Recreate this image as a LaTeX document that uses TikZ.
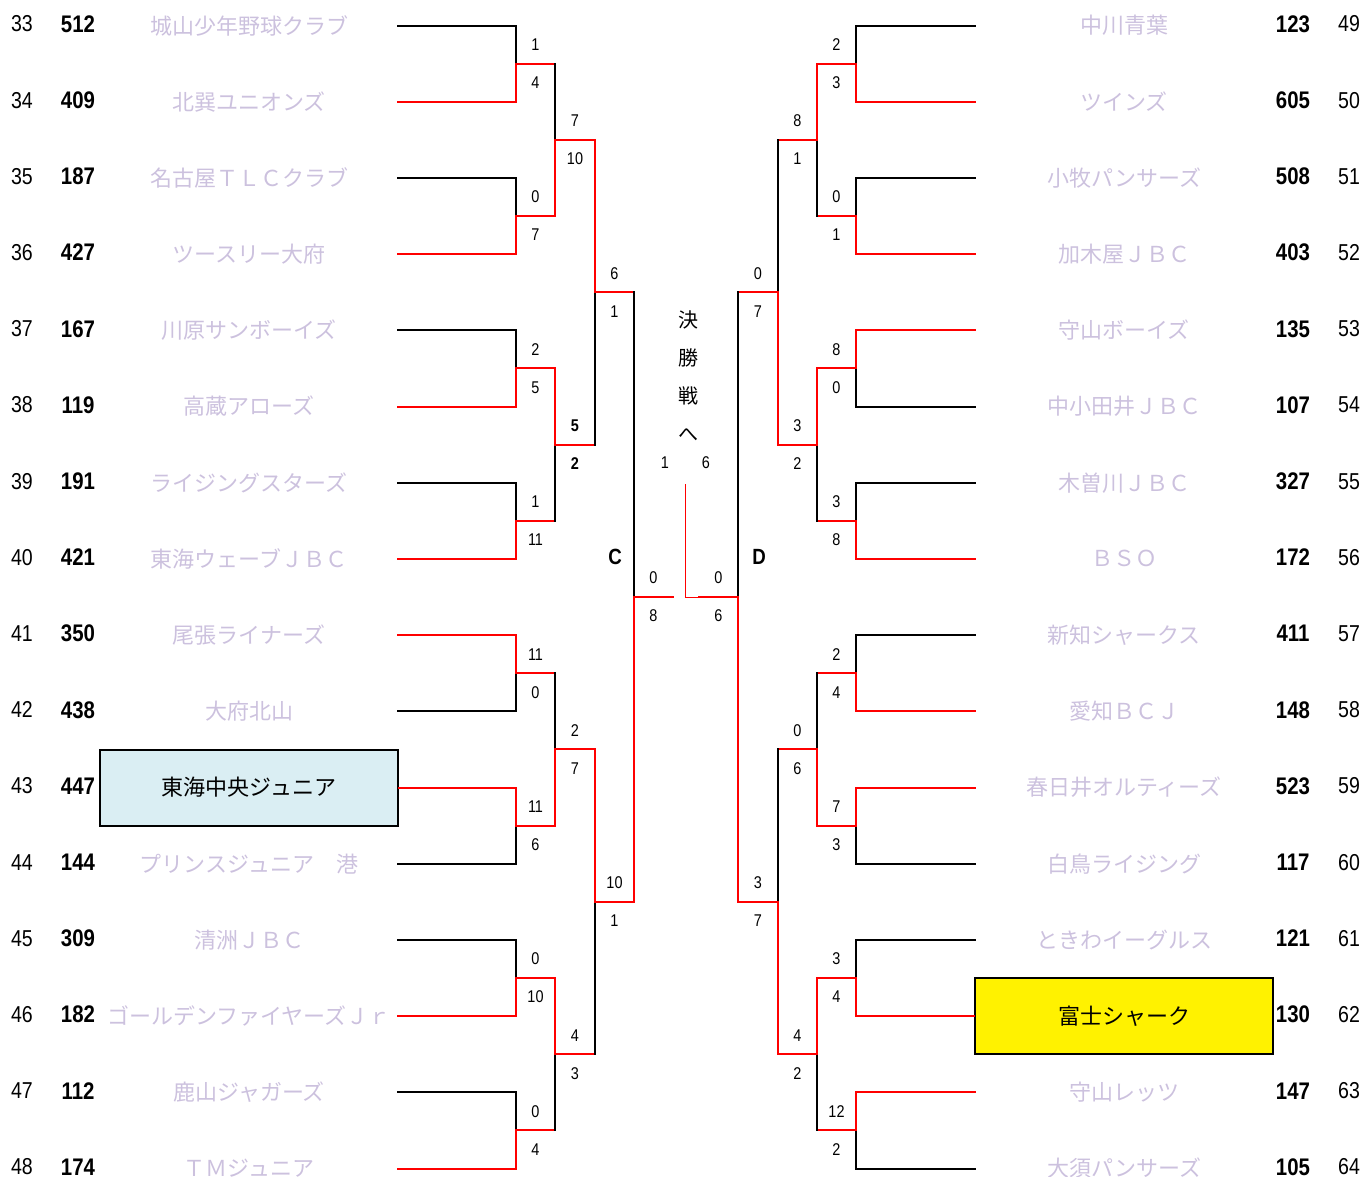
\documentclass[tikz,border=0pt]{standalone}
\usepackage{fontspec}
\newfontfamily\jp{Noto Sans CJK JP}
\newfontfamily\narrow[FakeStretch=0.85]{Liberation Sans}
\usetikzlibrary{calc}
\definecolor{faded}{RGB}{204,193,222}
\definecolor{boxblue}{RGB}{218,238,243}

% one game: top entry, bottom entry, next column, styles, scores, name
\newcommand{\game}[8]{%
  \coordinate (#8-m) at ($(#1)!0.5!(#2)$);
  \draw[#4] (#1) -- (#8-m);
  \draw[#5] (#2) -- (#8-m);
  \draw[win] (#8-m) -- (#8-m -| #3) coordinate (#8);
  \node[score] (#8-t) at ($(#8-m)!0.5!(#8)+(0,-19)$) {#6};
  \node[score] (#8-b) at ($(#8-m)!0.5!(#8)+(0,19)$) {#7};
}

\begin{document}
\begin{tikzpicture}[x=1pt,y=-1pt,
    lose/.style={draw=black,line width=2pt,line cap=rect},
    win/.style={draw=red,line width=2pt,line cap=rect},
    team/.style={minimum width=298pt,minimum height=76pt,inner sep=0pt,font={\fontsize{22}{24}\jp},text=faded},
    boxed/.style={team,draw=black,line width=2pt,text=black},
    teamblue/.style={boxed,fill=boxblue},
    teamgold/.style={boxed,fill=yellow},
    rowno/.style={font={\fontsize{23}{25}\narrow},yshift=1.5pt,inner sep=0pt},
    seedno/.style={font={\fontsize{24}{26}\narrow\bfseries},yshift=1.5pt,inner sep=0pt},
    score/.style={font={\fontsize{17}{19}\narrow},inner sep=0pt},
    blocklabel/.style={font={\fontsize{22}{24}\narrow\bfseries},inner sep=0pt},
    finaltext/.style={font={\fontsize{20}{38}\jp},align=center,inner sep=0pt}
]
    \useasboundingbox (0,0) rectangle (1363,1176);

    \foreach \n/\x in {cl1/516,cl2/555,cl3/595,cl4/634,clf/673,cr1/856,cr2/817,cr3/778,cr4/738,crf/699}
        \coordinate (\n) at (\x,0);

    % left block
    \foreach \k/\num/\sd/\tm/\ns/\ls in {
        0/33/512/城山少年野球クラブ/team/lose,
        1/34/409/北巽ユニオンズ/team/win,
        2/35/187/名古屋ＴＬＣクラブ/team/lose,
        3/36/427/ツースリー大府/team/win,
        4/37/167/川原サンボーイズ/team/lose,
        5/38/119/高蔵アローズ/team/win,
        6/39/191/ライジングスターズ/team/lose,
        7/40/421/東海ウェーブＪＢＣ/team/win,
        8/41/350/尾張ライナーズ/team/win,
        9/42/438/大府北山/team/lose,
        10/43/447/東海中央ジュニア/teamblue/win,
        11/44/144/プリンスジュニア　港/team/lose,
        12/45/309/清洲ＪＢＣ/team/lose,
        13/46/182/ゴールデンファイヤーズＪｒ/team/win,
        14/47/112/鹿山ジャガーズ/team/lose,
        15/48/174/ＴＭジュニア/team/win}{
        \pgfmathsetmacro\y{25.5+76.2*\k}
        \node[\ns] (L\k) at (249,\y) {\tm};
        \node[rowno] (Ln\k) at (22,\y) {\num};
        \node[seedno] (Ls\k) at (78,\y) {\sd};
        \draw[\ls] (L\k.east) -- (L\k.east -| cl1) coordinate (la\k);
    }
    \foreach \j/\ts/\bs/\sa/\sb in {0/lose/win/1/4,1/lose/win/0/7,2/lose/win/2/5,3/lose/win/1/11,
        4/win/lose/11/0,5/win/lose/11/6,6/lose/win/0/10,7/lose/win/0/4}{
        \pgfmathtruncatemacro\ta{2*\j}
        \pgfmathtruncatemacro\tb{2*\j+1}
        \game{la\ta}{la\tb}{cl2}{\ts}{\bs}{\sa}{\sb}{lb\j}
    }
    \foreach \j/\ts/\bs/\sa/\sb in {0/lose/win/7/10,1/win/lose/\textbf{5}/\textbf{2},2/lose/win/2/7,3/win/lose/4/3}{
        \pgfmathtruncatemacro\ta{2*\j}
        \pgfmathtruncatemacro\tb{2*\j+1}
        \game{lb\ta}{lb\tb}{cl3}{\ts}{\bs}{\sa}{\sb}{lc\j}
    }
    \game{lc0}{lc1}{cl4}{win}{lose}{6}{1}{ld0}
    \game{lc2}{lc3}{cl4}{win}{lose}{10}{1}{ld1}
    \game{ld0}{ld1}{clf}{lose}{win}{0}{8}{lf}

    % right block
    \foreach \k/\num/\sd/\tm/\ns/\ls in {
        0/49/123/中川青葉/team/lose,
        1/50/605/ツインズ/team/win,
        2/51/508/小牧パンサーズ/team/lose,
        3/52/403/加木屋ＪＢＣ/team/win,
        4/53/135/守山ボーイズ/team/win,
        5/54/107/中小田井ＪＢＣ/team/lose,
        6/55/327/木曽川ＪＢＣ/team/lose,
        7/56/172/ＢＳＯ/team/win,
        8/57/411/新知シャークス/team/lose,
        9/58/148/愛知ＢＣＪ/team/win,
        10/59/523/春日井オルティーズ/team/win,
        11/60/117/白鳥ライジング/team/lose,
        12/61/121/ときわイーグルス/team/lose,
        13/62/130/富士シャーク/teamgold/win,
        14/63/147/守山レッツ/team/win,
        15/64/105/大須パンサーズ/team/lose}{
        \pgfmathsetmacro\y{25.5+76.2*\k}
        \node[\ns] (R\k) at (1124,\y) {\tm};
        \node[seedno] (Rs\k) at (1293,\y) {\sd};
        \node[rowno] (Rn\k) at (1349,\y) {\num};
        \draw[\ls] (R\k.west) -- (R\k.west -| cr1) coordinate (ra\k);
    }
    \foreach \j/\ts/\bs/\sa/\sb in {0/lose/win/2/3,1/lose/win/0/1,2/win/lose/8/0,3/lose/win/3/8,
        4/lose/win/2/4,5/win/lose/7/3,6/lose/win/3/4,7/win/lose/12/2}{
        \pgfmathtruncatemacro\ta{2*\j}
        \pgfmathtruncatemacro\tb{2*\j+1}
        \game{ra\ta}{ra\tb}{cr2}{\ts}{\bs}{\sa}{\sb}{rb\j}
    }
    \foreach \j/\ts/\bs/\sa/\sb in {0/win/lose/8/1,1/win/lose/3/2,2/lose/win/0/6,3/win/lose/4/2}{
        \pgfmathtruncatemacro\ta{2*\j}
        \pgfmathtruncatemacro\tb{2*\j+1}
        \game{rb\ta}{rb\tb}{cr3}{\ts}{\bs}{\sa}{\sb}{rc\j}
    }
    \game{rc0}{rc1}{cr4}{lose}{win}{0}{7}{rd0}
    \game{rc2}{rc3}{cr4}{lose}{win}{3}{7}{rd1}
    \game{rd0}{rd1}{crf}{lose}{win}{0}{6}{rf}

    % centre
    \node[blocklabel] (C) at (615,557) {C};
    \node[blocklabel] (D) at (759,557) {D};
    \node[finaltext] (fin) at (688,376) {決\\勝\\戦\\へ};
    \node[score] (ft) at (665,463) {1};
    \node[score] (fb) at (706,463) {6};
    \coordinate (tie) at (685,484);
    \draw[red,line width=1pt] (tie) |- (rf);
\end{tikzpicture}
\end{document}
